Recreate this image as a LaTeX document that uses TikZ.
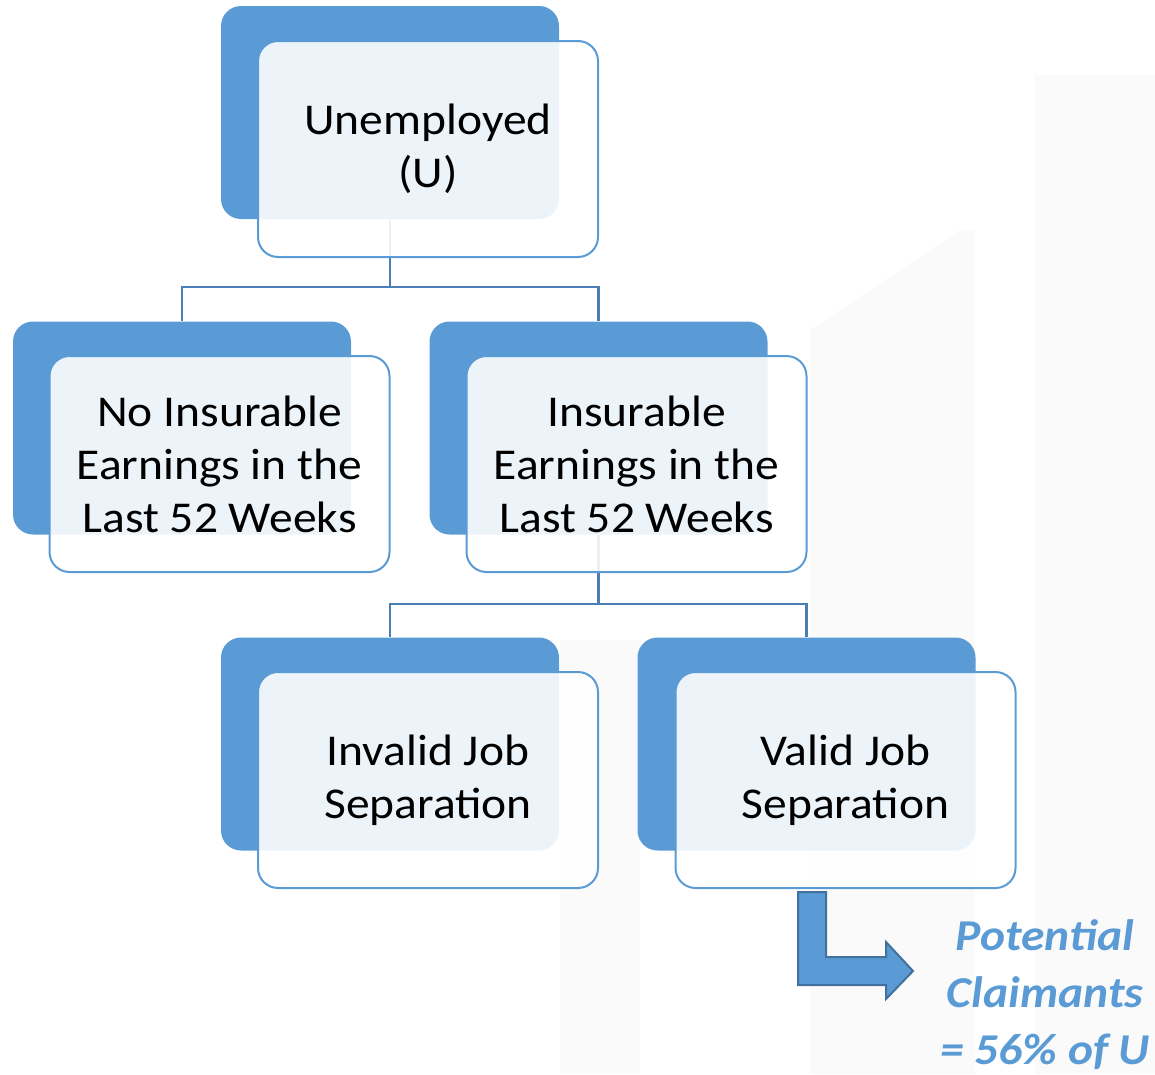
\documentclass[tikz,border=0pt]{standalone}
\usepackage{fontspec}
\setmainfont[FakeStretch=1.08]{Carlito}
\definecolor{accent}{HTML}{5B9BD5}
\definecolor{linecol}{HTML}{4A7EB5}
\definecolor{arrowline}{HTML}{41719C}
\definecolor{wm}{HTML}{FAFAFA}
\begin{document}
\begin{tikzpicture}[x=1pt,y=-1pt,
  backbox/.style={draw=none,fill=accent,rounded corners=20pt,minimum width=338pt,minimum height=213pt,inner sep=0pt},
  frontbox/.style={draw=accent,line width=2pt,fill=white,fill opacity=0.89,text opacity=1,rounded corners=20pt,minimum width=340pt,minimum height=216pt,inner sep=0pt,align=center,font=\fontsize{44}{53}\selectfont},
  conn/.style={draw=linecol,line width=2.5pt},
  claim/.style={align=center,text=accent,font=\fontsize{44}{57}\selectfont\bfseries\itshape}
]
\useasboundingbox (0,0) rectangle (1155,1074);
% faint watermark
\fill[wm] (1035,75) rectangle (1155,1074);
\fill[wm] (810,330) -- (960,230) -- (975,230) -- (975,1074) -- (810,1074) -- cycle;
\fill[wm] (560,640) rectangle (640,1074);
% back boxes
\node[backbox] (uB) at (390,112.5) {};
\node[backbox] (niB) at (182,428) {};
\node[backbox] (iB) at (598.5,428) {};
\node[backbox] (ivB) at (390,744) {};
\node[backbox] (vB) at (806.5,744) {};
% connectors
\coordinate (j1) at (390,287);
\coordinate (j2) at (598.5,604);
\draw[conn] (uB.south) -- (j1) -| (niB.north);
\draw[conn] (j1) -| (iB.north);
\draw[conn] (iB.south) -- (j2) -| (ivB.north);
\draw[conn] (j2) -| (vB.north);
% front boxes
\node[frontbox] (uF) at (428,149) {Unemployed\\(U)};
\node[frontbox] (niF) at (219.5,464) {No Insurable\\Earnings in the\\Last 52 Weeks};
\node[frontbox] (iF) at (636.5,464) {Insurable\\Earnings in the\\Last 52 Weeks};
\node[frontbox] (ivF) at (428,780) {Invalid Job\\Separation};
\node[frontbox] (vF) at (845.5,780) {Valid Job\\Separation};
% bent arrow
\draw[fill=accent,draw=arrowline,line width=2pt,line join=miter]
  (798,892) -- (826,892) -- (826,957) -- (886,957) -- (886,942) -- (913,971)
  -- (886,999) -- (886,985) -- (798,985) -- cycle;
\node[claim] (pc) at (1045,995) {Potential\\Claimants\\= 56\% of U};
\end{tikzpicture}
\end{document}
